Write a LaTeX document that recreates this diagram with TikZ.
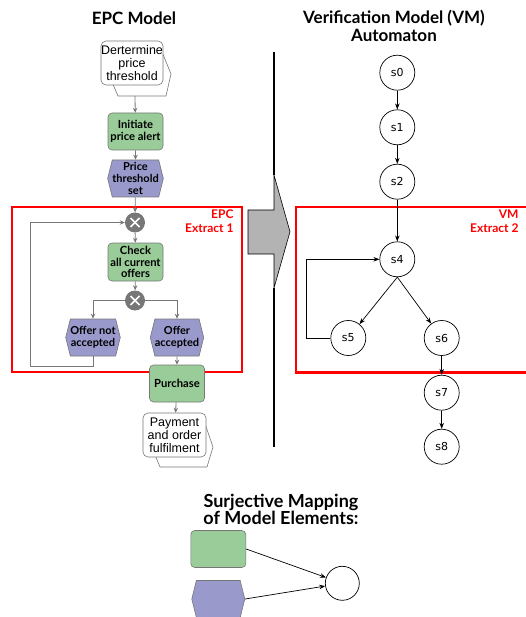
\documentclass[tikz,border=0pt]{standalone}
\usepackage{fontspec}
\setmainfont{Liberation Sans}
\newfontfamily\latofont{Lato}
\newfontfamily\dejafont{DejaVu Sans}
\usetikzlibrary{arrows.meta,shapes.symbols}
\definecolor{epcgreen}{HTML}{99CC99}
\definecolor{epcpurple}{HTML}{9999CC}
\definecolor{epcborder}{HTML}{777777}
\definecolor{xgray}{HTML}{777777}
\definecolor{biggray}{HTML}{B3B3B3}
\definecolor{redline}{HTML}{FF0000}
\begin{document}
\begin{tikzpicture}[x=1pt,y=-1pt,
  funcbox/.style={draw=epcborder, fill=epcgreen, rounded corners=4pt, minimum width=55pt, minimum height=37pt, inner sep=0pt, align=center, line width=0.6pt, font=\latofont\bfseries\fontsize{11.2}{11.6}\selectfont},
  eventbox/.style={signal, signal to=west and east, signal pointer angle=152, draw=epcborder, fill=epcpurple, minimum width=53pt, minimum height=37pt, inner sep=0pt, align=center, line width=0.6pt, font=\latofont\bfseries\fontsize{11}{11.6}\selectfont},
  whitebox/.style={draw=epcborder, fill=white, rounded corners=5pt, inner sep=0pt, align=center, line width=0.6pt, font=\fontsize{12.5}{13.2}\selectfont},
  backshape/.style={draw=epcborder, fill=white, line width=0.6pt},
  xorconn/.style={circle, fill=xgray, minimum size=20pt, inner sep=0pt,
    path picture={\draw[white, line width=1.6pt] ([shift={(-4.5pt,-4.5pt)}]path picture bounding box.center) -- ([shift={(4.5pt,4.5pt)}]path picture bounding box.center);
                  \draw[white, line width=1.6pt] ([shift={(-4.5pt,4.5pt)}]path picture bounding box.center) -- ([shift={(4.5pt,-4.5pt)}]path picture bounding box.center);}},
  epcarrow/.style={draw=epcborder, line width=0.8pt, -{Stealth[length=5pt,width=4.5pt]}},
  state/.style={circle, draw=black, line width=0.7pt, minimum size=35pt, inner sep=0pt, font=\dejafont\fontsize{11}{12}\selectfont},
  vmarrow/.style={draw=black, line width=0.7pt, -{Stealth[length=6pt,width=4.5pt]}},
  redbox/.style={draw=redline, line width=2.4pt},
  redlabel/.style={text=redline, align=right, font=\latofont\bfseries\fontsize{12}{13.5}\selectfont},
  titletext/.style={align=center, font=\latofont\bfseries\fontsize{17}{17.5}\selectfont}
]
\useasboundingbox (0,0) rectangle (525,617);

% titles
\node[titletext] (t1) at (134,18) {EPC Model};
\node[titletext] (t2) at (394,26) {Verification Model (VM)\\Automaton};
\node[titletext, font=\latofont\bfseries\fontsize{18}{17}\selectfont] (t3) at (281,509) {Surjective Mapping\\of Model Elements:};

% red extract boxes
\draw[redbox] (11.7,207) rectangle (242,372);
\draw[redbox] (527,207.3) -- (296,207.3) -- (296,372.3) -- (527,372.3);
\node[redlabel, anchor=east] (l1) at (237,221) {EPC\\Extract 1};
\node[redlabel, anchor=east] (l2) at (522,221) {VM\\Extract 2};

% EPC model
\draw[backshape] (120,60) -- (160,47) -- (171,74) -- (166,96) -- (118,96) -- (112,82) -- cycle;
\node[whitebox, minimum width=62pt, minimum height=44pt] (det) at (132,63) {Dertermine\\price\\threshold};
\coordinate (detbot) at (135,96);
\node[funcbox] (init) at (135.5,131.5) {Initiate\\price alert};
\node[eventbox] (pts) at (135.5,178.5) {Price\\threshold\\set};
\node[xorconn] (x1) at (135,222.5) {};
\node[funcbox, minimum height=38pt] (check) at (135.5,262) {Check\\all current\\offers};
\node[xorconn] (x2) at (135,300.5) {};
\node[eventbox] (ona) at (93,337.5) {Offer not\\accepted};
\node[eventbox] (oa) at (177,337.5) {Offer\\accepted};
\node[funcbox] (purch) at (177,383.5) {Purchase};
\draw[backshape] (165,430) -- (203,418) -- (213,447) -- (207,467) -- (160,467) -- (155,455) -- cycle;
\node[whitebox, minimum width=63pt, minimum height=44pt] (pay) at (174.5,435) {Payment\\and order\\fulfilment};

\coordinate (lb) at (30,366);
\draw[epcarrow] (detbot) -- (init);
\draw[epcarrow] (init) -- (pts);
\draw[epcarrow] (pts) -- (x1);
\draw[epcarrow] (x1) -- (check);
\draw[epcarrow] (check) -- (x2);
\draw[epcarrow] (x2.west) -| (ona.north);
\draw[epcarrow] (x2.east) -| (oa.north);
\draw[epcarrow] (ona.south) |- (lb) |- (x1.west);
\draw[epcarrow] (oa) -- (purch);
\draw[epcarrow] (purch) -- (pay);

% divider and big arrow
\coordinate (dtop) at (274,52);
\coordinate (dhead1) at (274,175);
\coordinate (dhead2) at (274,288);
\coordinate (dbot) at (274,447);
\draw[line width=2.6pt] (dtop) -- (dhead1);
\draw[line width=2.6pt] (dhead2) -- (dbot);
\draw[fill=biggray, line width=0.6pt] (248,210) -- (274,210) -- (dhead1) -- (290,231.7) -- (dhead2) -- (274,254) -- (248,254) -- cycle;

% VM automaton
\node[state] (s0) at (397.3,72.7) {s0};
\node[state] (s1) at (397.3,127.3) {s1};
\node[state] (s2) at (397.3,181.7) {s2};
\node[state] (s4) at (397.3,259.3) {s4};
\node[state] (s5) at (348.3,338) {s5};
\node[state] (s6) at (441.7,338) {s6};
\node[state] (s7) at (441.7,392.7) {s7};
\node[state] (s8) at (441.7,446.7) {s8};
\coordinate (lp) at (306.7,338);
\draw[vmarrow] (s0) -- (s1);
\draw[vmarrow] (s1) -- (s2);
\draw[vmarrow] (s2) -- (s4);
\draw[vmarrow] (s4.south) -- (s5);
\draw[vmarrow] (s4.south) -- (s6);
\draw[vmarrow] (s6) -- (s7);
\draw[vmarrow] (s7) -- (s8);
\draw[vmarrow] (s5.west) -- (lp) |- (s4.west);

% mapping legend
\node[funcbox] (mg) at (218.3,549) {};
\node[eventbox] (mp) at (218.3,599) {};
\node[state, minimum size=34pt] (mc) at (342.3,583.3) {};
\draw[vmarrow] (mg.east) -- (mc);
\draw[vmarrow] (mp.east) -- (mc);
\end{tikzpicture}
\end{document}
